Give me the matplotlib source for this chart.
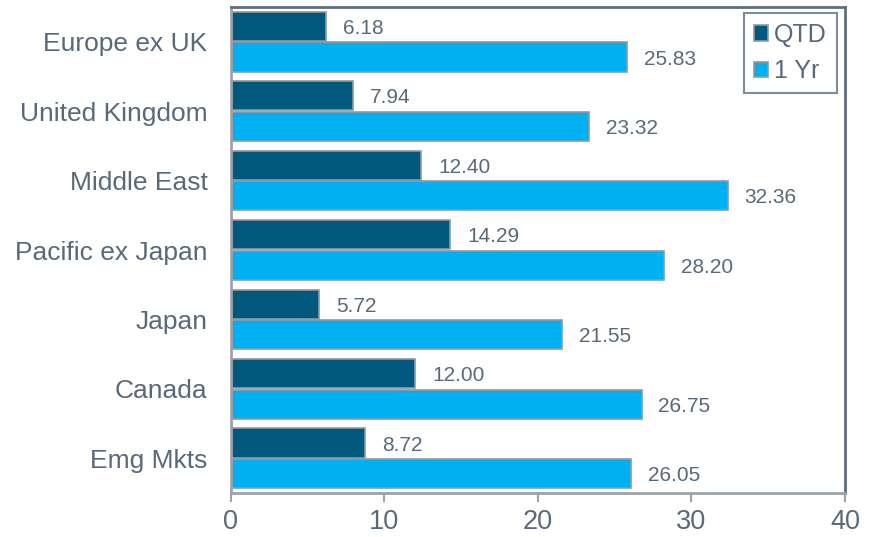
import numpy as np
import matplotlib.pyplot as plt

regions = ["Europe ex UK", "United Kingdom", "Middle East", "Pacific ex Japan",
           "Japan", "Canada", "Emg Mkts"]
qtd = [6.18, 7.94, 12.40, 14.29, 5.72, 12.00, 8.72]
one_yr = [25.83, 23.32, 32.36, 28.20, 21.55, 26.75, 26.05]

text_col = "#596979"
edge_col = "#8c9aa6"
dark_spine = "#5f6f7d"
plt.rcParams['font.family'] = ['Liberation Sans', 'DejaVu Sans']

fig = plt.figure(figsize=(8.73, 5.37), dpi=100)
ax = fig.add_axes([0.2646, 0.0819, 0.7033, 0.9051])

y = np.arange(len(regions))
h = 0.42
b1 = ax.barh(y - 0.22, qtd, height=h, color="#00587c", edgecolor=edge_col,
             linewidth=1.2, label="QTD")
b2 = ax.barh(y + 0.22, one_yr, height=h, color="#00b0f0", edgecolor=edge_col,
             linewidth=1.2, label="1 Yr")

# value labels just right of each bar
for bars, vals in [(b1, qtd), (b2, one_yr)]:
    for bar, v in zip(bars, vals):
        ax.text(v + 1.1, bar.get_y() + bar.get_height() / 2 + 0.03, f"{v:.2f}",
                va="center", ha="left", fontsize=15, color=text_col)

ax.set_xlim(0, 40)
ax.set_ylim(6.5, -0.5)
ax.set_xticks([0, 10, 20, 30, 40])
ax.set_yticks(y)
ax.set_yticklabels(regions)
ax.tick_params(axis="x", colors="#9ba3aa", labelcolor=text_col, labelsize=19.5,
               length=6.5, width=1.5, direction="out", pad=5)
ax.tick_params(axis="y", length=0, labelcolor=text_col, labelsize=19, pad=17)
for name, s in ax.spines.items():
    s.set_linewidth(2)
    s.set_color(dark_spine if name in ("top", "right") else "#9ba3aa")

leg = ax.legend(loc="upper right", fontsize=18, frameon=True, fancybox=False,
                handlelength=0.55, handleheight=0.55, handletextpad=0.25,
                borderpad=0.4, labelspacing=0.5, labelcolor=text_col,
                borderaxespad=0, bbox_to_anchor=(0.987, 0.988))
leg.get_frame().set_edgecolor(dark_spine)
leg.get_frame().set_linewidth(1.5)

fig.savefig("out.png", dpi=100)
